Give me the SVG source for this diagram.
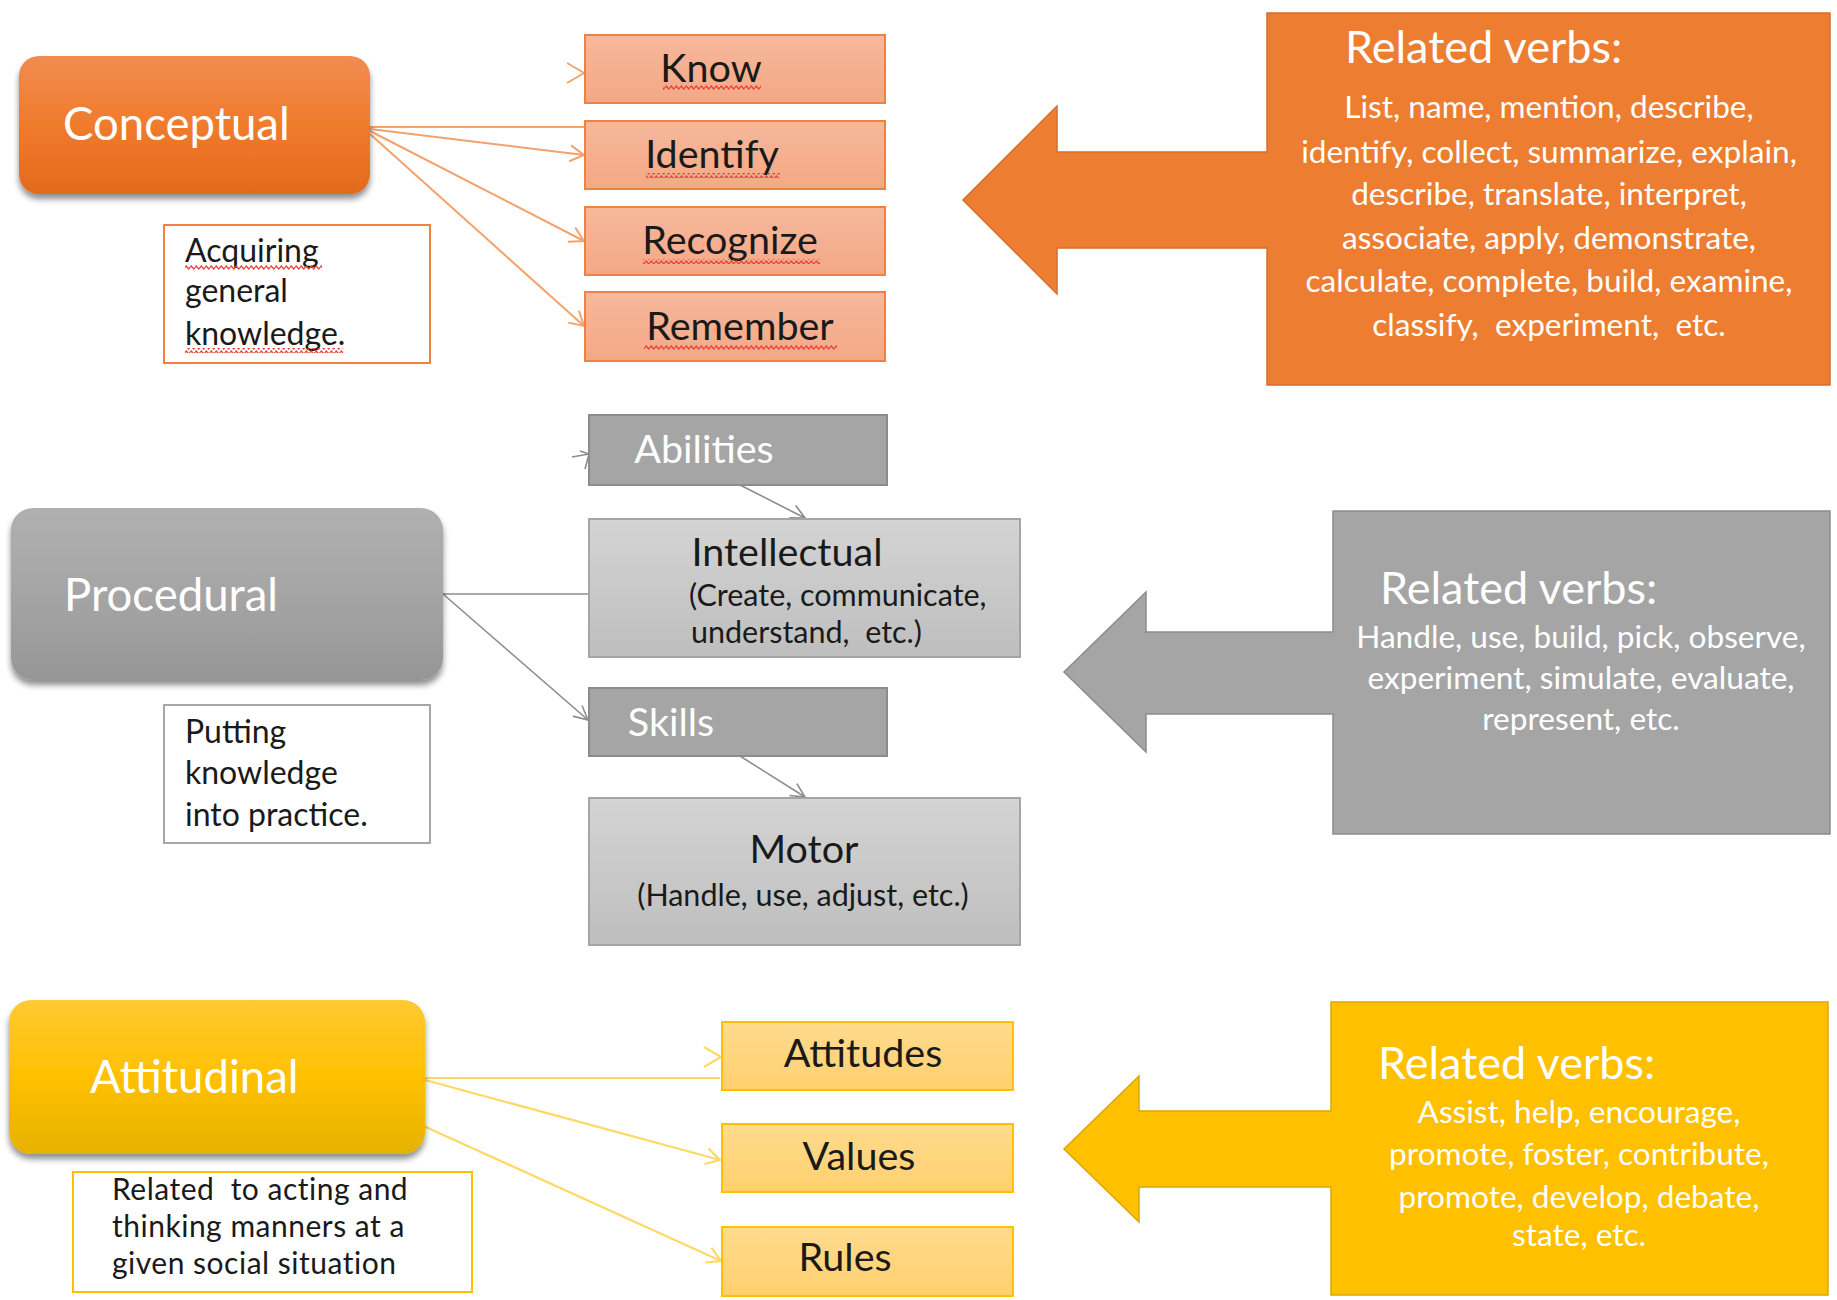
<svg xmlns="http://www.w3.org/2000/svg" width="1837" height="1300" viewBox="0 0 1837 1300">
<defs>
<style>
text{font-family:Lato,"Open Sans","Liberation Sans",sans-serif;white-space:pre}
.w{fill:#ffffff}
.k{fill:#1a1a1a}
.main{font-size:45.5px}
.lbl{font-size:39.5px}
.sub{font-size:30.5px}
.note{font-size:32px}
.note2{font-size:30px;letter-spacing:0.5px}
.rv{font-size:45px}
.vb{font-size:31.6px}
.c{text-anchor:middle}
.co{stroke:#F4A26C;stroke-width:2;fill:none}
.cg{stroke:#8C8C8C;stroke-width:1.6;fill:none}
.cy{stroke:#FFD966;stroke-width:2.2;fill:none}
</style>
<linearGradient id="gOr" x1="0" y1="0" x2="0" y2="1"><stop offset="0" stop-color="#F08C50"/><stop offset="0.5" stop-color="#F07B2C"/><stop offset="1" stop-color="#E26A1C"/></linearGradient>
<linearGradient id="gGr" x1="0" y1="0" x2="0" y2="1"><stop offset="0" stop-color="#B0B0B0"/><stop offset="0.5" stop-color="#A5A5A5"/><stop offset="1" stop-color="#969696"/></linearGradient>
<linearGradient id="gYe" x1="0" y1="0" x2="0" y2="1"><stop offset="0" stop-color="#FFCA33"/><stop offset="0.5" stop-color="#FFC000"/><stop offset="1" stop-color="#E6B203"/></linearGradient>
<linearGradient id="gSal" x1="0" y1="0" x2="0" y2="1"><stop offset="0" stop-color="#F6B89C"/><stop offset="1" stop-color="#F4A885"/></linearGradient>
<linearGradient id="gLg" x1="0" y1="0" x2="0" y2="1"><stop offset="0" stop-color="#D4D4D4"/><stop offset="1" stop-color="#BEBEBE"/></linearGradient>
<linearGradient id="gLy" x1="0" y1="0" x2="0" y2="1"><stop offset="0" stop-color="#FFDB8E"/><stop offset="1" stop-color="#FFD06E"/></linearGradient>
<filter id="sh" x="-10%" y="-10%" width="120%" height="130%"><feGaussianBlur in="SourceAlpha" stdDeviation="3"/><feOffset dy="5" result="b"/><feComponentTransfer><feFuncA type="linear" slope="0.45"/></feComponentTransfer><feMerge><feMergeNode/><feMergeNode in="SourceGraphic"/></feMerge></filter>
<pattern id="wavy" patternUnits="userSpaceOnUse" width="5" height="5"><path d="M0,2.5 L1.25,1 L3.75,4 L5,2.5" stroke="#E8403A" stroke-width="1.3" fill="none"/></pattern>
<marker id="mo" markerUnits="userSpaceOnUse" markerWidth="20" markerHeight="20" refX="16" refY="10" orient="auto"><path d="M2,2 L16,10 L2,18" fill="none" stroke="#F4A26C" stroke-width="2"/></marker>
<marker id="mg" markerUnits="userSpaceOnUse" markerWidth="20" markerHeight="20" refX="16" refY="10" orient="auto"><path d="M2,3 L16,10 L2,17" fill="none" stroke="#8C8C8C" stroke-width="1.6"/></marker>
<marker id="my" markerUnits="userSpaceOnUse" markerWidth="20" markerHeight="20" refX="16" refY="10" orient="auto"><path d="M2,2 L16,10 L2,18" fill="none" stroke="#FFD966" stroke-width="2.2"/></marker>
</defs>
<rect width="1837" height="1300" fill="#ffffff"/>

<g id="connectors">
<line class="co" x1="370" y1="127" x2="585" y2="127"/>
<polyline class="co" points="567,63 584,73 567,83"/>
<line class="co" x1="370" y1="129" x2="584" y2="155" marker-end="url(#mo)"/>
<line class="co" x1="370" y1="131" x2="584" y2="241" marker-end="url(#mo)"/>
<line class="co" x1="370" y1="134" x2="584" y2="326" marker-end="url(#mo)"/>
<line class="cg" x1="572" y1="457" x2="589" y2="454"/>
<polyline class="cg" points="580,451 589,454 585,469"/>
<line class="cg" x1="740" y1="485" x2="805" y2="518" marker-end="url(#mg)"/>
<line class="cg" x1="443" y1="594" x2="589" y2="594"/>
<line class="cg" x1="443" y1="594" x2="588" y2="720" marker-end="url(#mg)"/>
<line class="cg" x1="740" y1="756" x2="805" y2="797" marker-end="url(#mg)"/>
<line class="cy" x1="425" y1="1078" x2="720" y2="1078"/>
<polyline class="cy" points="704,1047 721,1057 704,1067"/>
<line class="cy" x1="425" y1="1080" x2="720" y2="1160" marker-end="url(#my)"/>
<line class="cy" x1="417" y1="1123" x2="721" y2="1261" marker-end="url(#my)"/>
</g>

<g id="conceptual">
<rect x="19" y="56" width="351" height="138" rx="20" fill="url(#gOr)" filter="url(#sh)"/>
<text class="main w" x="63" y="140">Conceptual</text>
</g>
<g id="conceptual-note">
<rect x="164" y="225" width="266" height="138" fill="#ffffff" stroke="#F08144" stroke-width="2"/>
<text class="note k" x="185" y="262">Acquiring</text>
<text class="note k" x="185" y="302">general</text>
<text class="note k" x="185" y="345">knowledge.</text>
<rect x="185" y="265" width="137" height="5" fill="url(#wavy)"/>
<rect x="185" y="348" width="158" height="5" fill="url(#wavy)"/>
</g>
<g id="know">
<rect x="585" y="35" width="300" height="68" fill="url(#gSal)" stroke="#F08144" stroke-width="2"/>
<text class="lbl k c" x="711" y="82">Know</text>
<rect x="663" y="85" width="98" height="5" fill="url(#wavy)"/>
</g>
<g id="identify">
<rect x="585" y="121" width="300" height="68" fill="url(#gSal)" stroke="#F08144" stroke-width="2"/>
<text class="lbl k c" x="712" y="168">Identify</text>
<rect x="646" y="173" width="134" height="5" fill="url(#wavy)"/>
</g>
<g id="recognize">
<rect x="585" y="207" width="300" height="68" fill="url(#gSal)" stroke="#F08144" stroke-width="2"/>
<text class="lbl k c" x="730" y="254">Recognize</text>
<rect x="643" y="259" width="177" height="5" fill="url(#wavy)"/>
</g>
<g id="remember">
<rect x="585" y="292" width="300" height="69" fill="url(#gSal)" stroke="#F08144" stroke-width="2"/>
<text class="lbl k c" x="740" y="340">Remember</text>
<rect x="644" y="345" width="193" height="5" fill="url(#wavy)"/>
</g>
<g id="conceptual-verbs">
<path d="M1267,152 L1057,152 L1057,106 L963,200 L1057,294 L1057,248 L1267,248 L1267,385 L1830,385 L1830,13 L1267,13 Z" fill="#ED7D31" stroke="#D66F2A" stroke-width="1.5"/>
<text class="rv w" x="1345" y="63">Related verbs:</text>
<text class="vb w c" x="1549" y="118">List, name, mention, describe,</text>
<text class="vb w c" x="1549" y="163">identify, collect, summarize, explain,</text>
<text class="vb w c" x="1549" y="205">describe, translate, interpret,</text>
<text class="vb w c" x="1549" y="249">associate, apply, demonstrate,</text>
<text class="vb w c" x="1549" y="292">calculate, complete, build, examine,</text>
<text class="vb w c" x="1549" y="336">classify,  experiment,  etc.</text>
</g>

<g id="procedural">
<rect x="11" y="508" width="432" height="172" rx="22" fill="url(#gGr)" filter="url(#sh)"/>
<text class="main w" x="64" y="611">Procedural</text>
</g>
<g id="procedural-note">
<rect x="164" y="705" width="266" height="138" fill="#ffffff" stroke="#A6A6A6" stroke-width="2"/>
<text class="note k" x="185" y="743">Putting</text>
<text class="note k" x="185" y="784">knowledge</text>
<text class="note k" x="185" y="826">into practice.</text>
</g>
<g id="abilities">
<rect x="589" y="415" width="298" height="70" fill="#A5A5A5" stroke="#8C8C8C" stroke-width="2"/>
<text class="lbl w c" x="704" y="463">Abilities</text>
</g>
<g id="intellectual">
<rect x="589" y="519" width="431" height="138" fill="url(#gLg)" stroke="#A5A5A5" stroke-width="2"/>
<text class="lbl k c" x="787" y="566">Intellectual</text>
<text class="sub k" x="689" y="606">(Create, communicate,</text>
<text class="sub k" x="691" y="643">understand,  etc.)</text>
</g>
<g id="skills">
<rect x="589" y="688" width="298" height="68" fill="#A5A5A5" stroke="#8C8C8C" stroke-width="2"/>
<text class="lbl w c" x="671" y="736">Skills</text>
</g>
<g id="motor">
<rect x="589" y="798" width="431" height="147" fill="url(#gLg)" stroke="#A5A5A5" stroke-width="2"/>
<text class="lbl k c" x="804" y="863">Motor</text>
<text class="sub k c" x="803" y="906">(Handle, use, adjust, etc.)</text>
</g>
<g id="procedural-verbs">
<path d="M1333,632 L1146,632 L1146,592 L1064,672 L1146,752 L1146,714 L1333,714 L1333,834 L1830,834 L1830,511 L1333,511 Z" fill="#A5A5A5" stroke="#8C8C8C" stroke-width="1.5"/>
<text class="rv w" x="1380" y="604">Related verbs:</text>
<text class="vb w c" x="1581" y="648">Handle, use, build, pick, observe,</text>
<text class="vb w c" x="1581" y="689">experiment, simulate, evaluate,</text>
<text class="vb w c" x="1581" y="730">represent, etc.</text>
</g>

<g id="attitudinal">
<rect x="9" y="1000" width="416" height="154" rx="22" fill="url(#gYe)" filter="url(#sh)"/>
<text class="main w" x="90" y="1093">Attitudinal</text>
</g>
<g id="attitudinal-note">
<rect x="73" y="1172" width="399" height="120" fill="#ffffff" stroke="#FFC000" stroke-width="2"/>
<text class="note2 k" x="112" y="1200">Related  to acting and</text>
<text class="note2 k" x="112" y="1237">thinking manners at a</text>
<text class="note2 k" x="112" y="1274">given social situation</text>
</g>
<g id="attitudes">
<rect x="722" y="1022" width="291" height="68" fill="url(#gLy)" stroke="#FFC000" stroke-width="2"/>
<text class="lbl k c" x="863" y="1067">Attitudes</text>
</g>
<g id="values">
<rect x="722" y="1124" width="291" height="68" fill="url(#gLy)" stroke="#FFC000" stroke-width="2"/>
<text class="lbl k c" x="859" y="1170">Values</text>
</g>
<g id="rules">
<rect x="722" y="1227" width="291" height="69" fill="url(#gLy)" stroke="#FFC000" stroke-width="2"/>
<text class="lbl k c" x="845" y="1271">Rules</text>
</g>
<g id="attitudinal-verbs">
<path d="M1331,1111 L1139,1111 L1139,1076 L1064,1149 L1139,1222 L1139,1187 L1331,1187 L1331,1295 L1828,1295 L1828,1002 L1331,1002 Z" fill="#FFC000" stroke="#DDA600" stroke-width="1.5"/>
<text class="rv w" x="1378" y="1079">Related verbs:</text>
<text class="vb w c" x="1579" y="1123">Assist, help, encourage,</text>
<text class="vb w c" x="1579" y="1165">promote, foster, contribute,</text>
<text class="vb w c" x="1579" y="1208">promote, develop, debate,</text>
<text class="vb w c" x="1579" y="1246">state, etc.</text>
</g>
</svg>
